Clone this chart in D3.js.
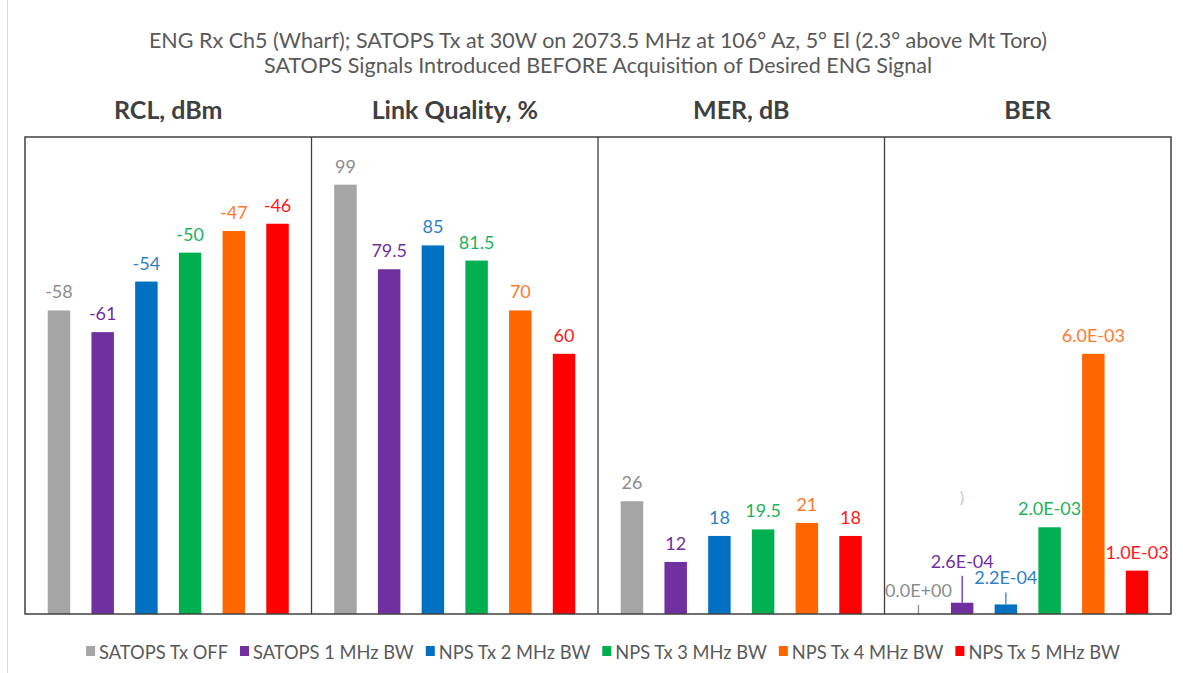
<!DOCTYPE html>
<html>
<head>
<meta charset="utf-8">
<script src="https://cdn.jsdelivr.net/npm/d3@7"></script>
<style>
body{margin:0;background:#fff;}
svg{display:block;font-family:Lato,"Open Sans",sans-serif;}
</style>
</head>
<body>
<div id="chart"></div>
<script>
// data
var titleLines = [
	"ENG Rx Ch5 (Wharf); SATOPS Tx at 30W on 2073.5 MHz at 106° Az, 5° El (2.3° above Mt Toro)",
	"SATOPS Signals Introduced BEFORE Acquisition of Desired ENG Signal"
];
var series = ["SATOPS Tx OFF", "SATOPS 1 MHz BW", "NPS Tx 2 MHz BW", "NPS Tx 3 MHz BW", "NPS Tx 4 MHz BW", "NPS Tx 5 MHz BW"];
var panelTitles = ["RCL, dBm", "Link Quality, %", "MER, dB", "BER"];
var rcl = [-58, -61, -54, -50, -47, -46];
var linkQuality = [99, 79.5, 85, 81.5, 70, 60];
var mer = [26, 12, 18, 19.5, 21, 18];
var ber = [0, 2.6e-4, 2.2e-4, 2.0e-3, 6.0e-3, 1.0e-3];

// colours and scale settings
var barColors = ["#a5a5a5", "#7030a0", "#0070c0", "#00b050", "#ff6600", "#ff0000"];
var labelColors = ["#8c8c8c", "#7030a0", "#2f80c8", "#1db35a", "#ff7a2e", "#ff1a1a"];
var yDomains = [[-100, -34], [0, 110], [0, 110], [0, 0.011]];
// BER labels that are lifted with a leader line (px above bar top)
var berLift = [17, 35, 20, 0, 0, 0];

function sci(v){
	var s = v.toExponential(1).toUpperCase();   // 2.6E-4
	return s.replace(/E([+-])(\d)$/, "E$10$2");
}
var panelData = [rcl, linkQuality, mer, ber];
var panelFmt = [
	function(d){ return d; },
	function(d){ return d; },
	function(d){ return d; },
	sci
];

var W = 1183, H = 673;
var plot = {x0: 25, x1: 1171, y0: 137, y1: 614};
var panelW = (plot.x1 - plot.x0) / panelData.length;

var svg = d3.select("#chart").append("svg")
	.attr("width", W)
	.attr("height", H);

// light outer frame
svg.append("line")
	.attr("x1", 7.5).attr("x2", 7.5)
	.attr("y1", 0).attr("y2", H)
	.attr("stroke", "#d9d9d9");

// titles
titleLines.forEach(function(t, i){
	svg.append("text")
		.text(t)
		.attr("x", (plot.x0 + plot.x1) / 2)
		.attr("y", 48 + i*25)
		.attr("text-anchor", "middle")
		.attr("fill", "#595959")
		.style("font-size", "21.5px");
});

var y = d3.scaleLinear().range([plot.y1, plot.y0]);

panelData.forEach(function(vals, p){
	var px = plot.x0 + p*panelW;
	var x = d3.scaleBand()
		.domain(series)
		.range([px, px + panelW])
		.paddingInner(0.486)
		.paddingOuter(0.52);
	var ys = y.copy().domain(yDomains[p]);
	var base = ys(yDomains[p][0]);

	// panel title
	svg.append("text")
		.text(panelTitles[p])
		.attr("x", px + panelW/2)
		.attr("y", 119)
		.attr("text-anchor", "middle")
		.attr("fill", "#404040")
		.style("font-size", "25px")
		.style("font-weight", "bold");

	var g = svg.append("g");
	g.selectAll("rect")
		.data(vals)
		.enter()
		.append("rect")
		.attr("x", function(d, i){ return x(series[i]); })
		.attr("width", x.bandwidth())
		.attr("y", function(d){ return ys(d); })
		.attr("height", function(d){ return base - ys(d); })
		.attr("fill", function(d, i){ return barColors[i]; });

	var lift = p == 3 ? berLift : [0,0,0,0,0,0];
	vals.forEach(function(d, i){
		var cx = x(series[i]) + x.bandwidth()/2;
		var top = ys(d);
		var by = lift[i] > 0 ? top - lift[i] : top - 12;
		if(lift[i] > 0){
			g.append("line")
				.attr("x1", cx).attr("x2", cx)
				.attr("y1", top).attr("y2", by + 8)
				.attr("stroke", labelColors[i])
				.attr("stroke-width", 1.3);
		}
		g.append("text")
			.text(panelFmt[p](d))
			.attr("x", cx)
			.attr("y", by)
			.attr("text-anchor", "middle")
			.attr("fill", labelColors[i])
			.style("font-size", "18px");
	});
});

// stray mark in the BER panel
svg.append("text")
	.text(")")
	.attr("x", 962)
	.attr("y", 503)
	.attr("text-anchor", "middle")
	.attr("fill", "#b5c4c4")
	.style("font-size", "15px");

// frame and panel dividers
svg.append("rect")
	.attr("x", plot.x0).attr("y", plot.y0)
	.attr("width", plot.x1 - plot.x0)
	.attr("height", plot.y1 - plot.y0)
	.attr("fill", "none")
	.attr("stroke", "#404040")
	.attr("stroke-width", 1.5);
for(var k=1; k<panelData.length; k++){
	svg.append("line")
		.attr("x1", plot.x0 + k*panelW).attr("x2", plot.x0 + k*panelW)
		.attr("y1", plot.y0).attr("y2", plot.y1)
		.attr("stroke", "#404040")
		.attr("stroke-width", 1.3);
}

// legend
var legend = svg.append("g");
var lx = 0;
series.forEach(function(s, i){
	legend.append("rect")
		.attr("x", lx).attr("y", 646)
		.attr("width", 9).attr("height", 10)
		.attr("fill", barColors[i]);
	var t = legend.append("text")
		.text(s)
		.attr("x", lx + 13)
		.attr("y", 659)
		.attr("fill", "#595959")
		.style("font-size", "18.3px");
	lx += 13 + t.node().getComputedTextLength() + 12;
});
legend.attr("transform", "translate(" + (603 - (lx - 12)/2) + ",0)");
</script>
</body>
</html>
